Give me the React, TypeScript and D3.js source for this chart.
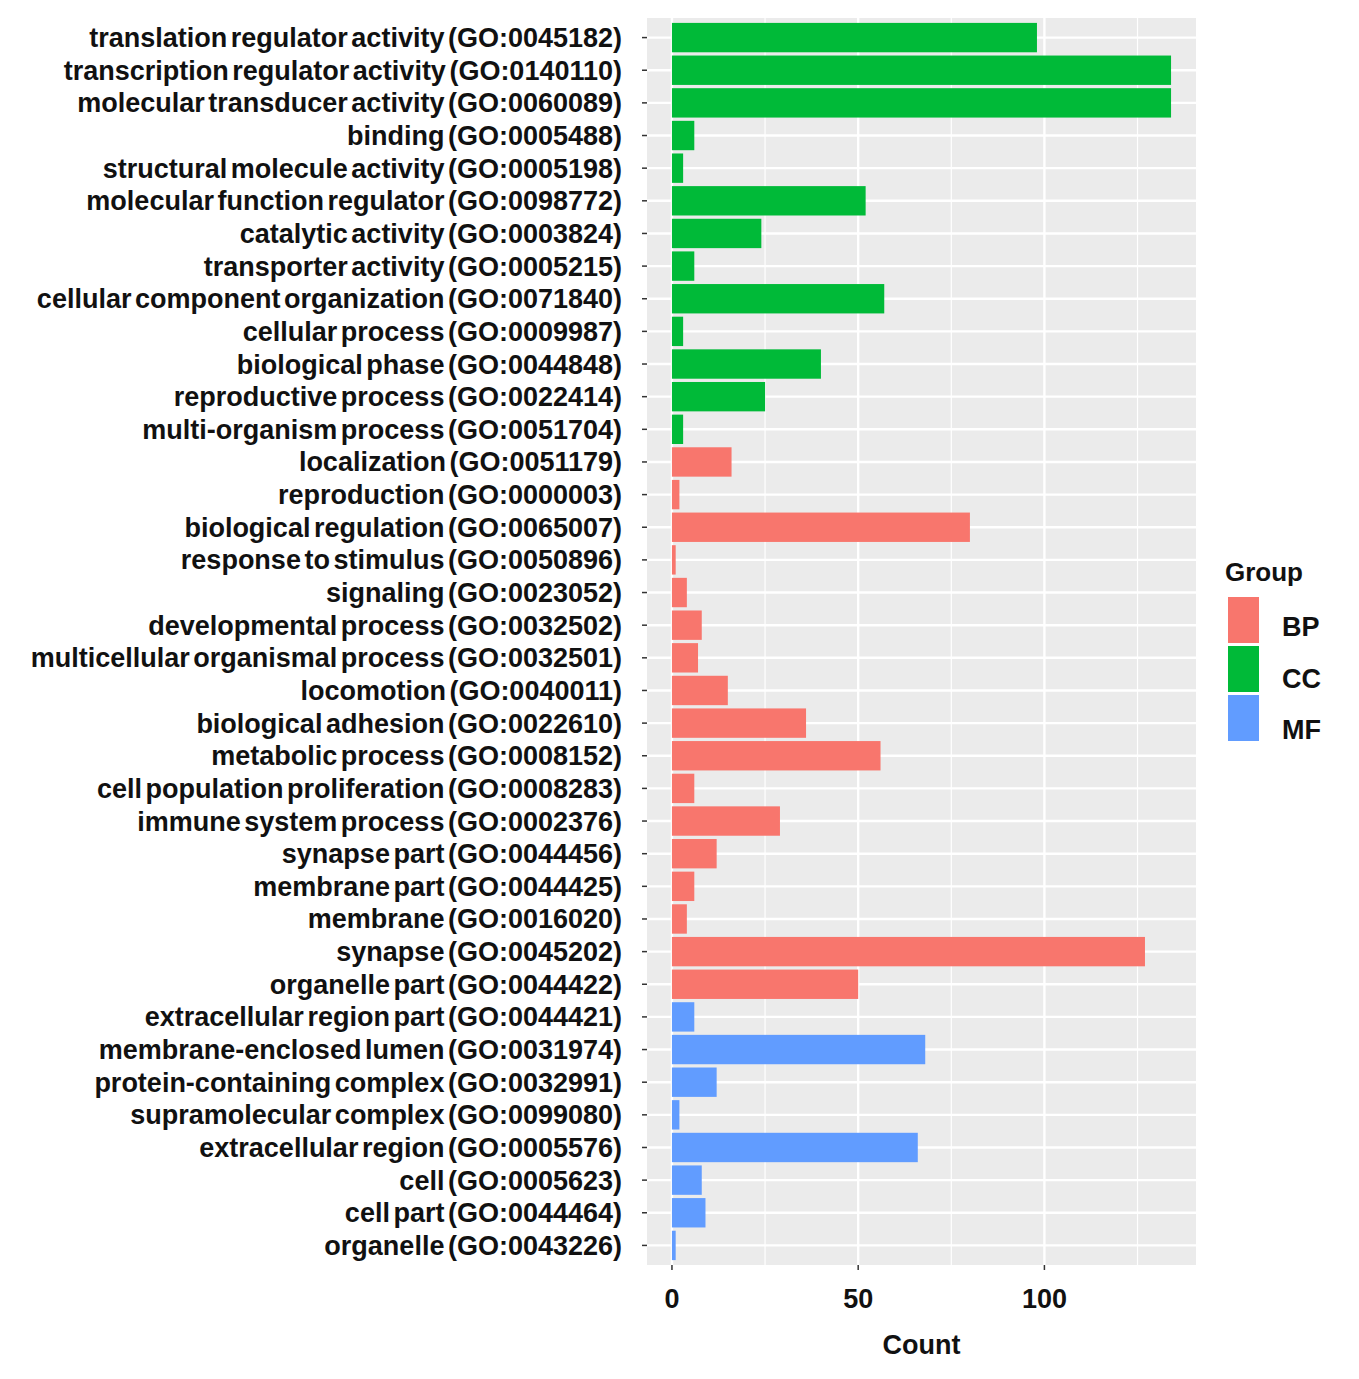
import { scaleLinear, scalePoint, scaleOrdinal } from 'd3';

const terms = [
  'translation regulator activity (GO:0045182)',
  'transcription regulator activity (GO:0140110)',
  'molecular transducer activity (GO:0060089)',
  'binding (GO:0005488)',
  'structural molecule activity (GO:0005198)',
  'molecular function regulator (GO:0098772)',
  'catalytic activity (GO:0003824)',
  'transporter activity (GO:0005215)',
  'cellular component organization (GO:0071840)',
  'cellular process (GO:0009987)',
  'biological phase (GO:0044848)',
  'reproductive process (GO:0022414)',
  'multi-organism process (GO:0051704)',
  'localization (GO:0051179)',
  'reproduction (GO:0000003)',
  'biological regulation (GO:0065007)',
  'response to stimulus (GO:0050896)',
  'signaling (GO:0023052)',
  'developmental process (GO:0032502)',
  'multicellular organismal process (GO:0032501)',
  'locomotion (GO:0040011)',
  'biological adhesion (GO:0022610)',
  'metabolic process (GO:0008152)',
  'cell population proliferation (GO:0008283)',
  'immune system process (GO:0002376)',
  'synapse part (GO:0044456)',
  'membrane part (GO:0044425)',
  'membrane (GO:0016020)',
  'synapse (GO:0045202)',
  'organelle part (GO:0044422)',
  'extracellular region part (GO:0044421)',
  'membrane-enclosed lumen (GO:0031974)',
  'protein-containing complex (GO:0032991)',
  'supramolecular complex (GO:0099080)',
  'extracellular region (GO:0005576)',
  'cell (GO:0005623)',
  'cell part (GO:0044464)',
  'organelle (GO:0043226)',
];

const counts = [
  98, 134, 134, 6, 3, 52, 24, 6, 57, 3, 40, 25, 3,
  16, 2, 80, 1, 4, 8, 7, 15, 36, 56, 6, 29, 12, 6, 4, 127, 50,
  6, 68, 12, 2, 66, 8, 9, 1,
];

const groups = [
  'CC', 'CC', 'CC', 'CC', 'CC', 'CC', 'CC', 'CC', 'CC', 'CC', 'CC', 'CC', 'CC',
  'BP', 'BP', 'BP', 'BP', 'BP', 'BP', 'BP', 'BP', 'BP', 'BP', 'BP', 'BP', 'BP', 'BP', 'BP', 'BP', 'BP',
  'MF', 'MF', 'MF', 'MF', 'MF', 'MF', 'MF', 'MF',
];

const groupNames = ['BP', 'CC', 'MF'];
const groupColors = ['#F8766D', '#00BA38', '#619CFF'];

const majorTicks = [0, 50, 100];
const minorTicks = [25, 75, 125];

const W = 1359;
const H = 1379;
const panel = { left: 647, right: 1196, top: 18, bottom: 1265 };
const FONT = '"Liberation Sans", Arial, sans-serif';

export default function App() {
  const maxCount = Math.max(...counts);
  const pad = maxCount * 0.05;
  const x = scaleLinear().domain([-pad, maxCount + pad]).range([panel.left, panel.right]);
  const y = scalePoint<string>().domain(terms).range([panel.top, panel.bottom]).padding(0.6);
  const color = scaleOrdinal<string, string>().domain(groupNames).range(groupColors);
  const barH = y.step() * 0.9;

  return (
    <svg
      width={W}
      height={H}
      style={{ position: 'absolute', left: 0, top: 0, background: '#fff' }}
      fontFamily={FONT}
    >
      {/* panel background */}
      <rect
        x={panel.left}
        y={panel.top}
        width={panel.right - panel.left}
        height={panel.bottom - panel.top}
        fill="#EBEBEB"
      />
      {/* minor vertical grid */}
      {minorTicks.map((t) => (
        <line key={`mn${t}`} x1={x(t)} x2={x(t)} y1={panel.top} y2={panel.bottom} stroke="#fff" strokeWidth={1.2} />
      ))}
      {/* major vertical grid */}
      {majorTicks.map((t) => (
        <line key={`mj${t}`} x1={x(t)} x2={x(t)} y1={panel.top} y2={panel.bottom} stroke="#fff" strokeWidth={2.4} />
      ))}
      {/* horizontal grid */}
      {terms.map((t) => (
        <line key={`h${t}`} x1={panel.left} x2={panel.right} y1={y(t)} y2={y(t)} stroke="#fff" strokeWidth={2.4} />
      ))}

      {/* Bars */}
      {terms.map((t, i) => (
        <rect
          key={`b${t}`}
          x={x(0)}
          y={(y(t) || 0) - barH / 2}
          width={x(counts[i]) - x(0)}
          height={barH}
          fill={color(groups[i])}
        />
      ))}

      {/* Y axis ticks and labels */}
      {terms.map((t) => {
        const yy = y(t) || 0;
        return (
          <g key={`yl${t}`}>
            <line x1={panel.left - 5} x2={panel.left} y1={yy} y2={yy} stroke="#333" strokeWidth={1.5} />
            <text
              x={622}
              y={yy + 9.5}
              textAnchor="end"
              fontSize={27}
              wordSpacing={-4}
              fontWeight="bold"
              fill="#111"
            >
              {t}
            </text>
          </g>
        );
      })}

      {/* X axis ticks and labels */}
      {majorTicks.map((t) => (
        <g key={`xt${t}`}>
          <line x1={x(t)} x2={x(t)} y1={panel.bottom} y2={panel.bottom + 5} stroke="#333" strokeWidth={1.5} />
          <text x={x(t)} y={1308} textAnchor="middle" fontSize={27} fontWeight="bold" fill="#111">
            {t}
          </text>
        </g>
      ))}
      <text x={(panel.left + panel.right) / 2} y={1354} textAnchor="middle" fontSize={27} fontWeight="bold" fill="#111">
        Count
      </text>

      {/* Legend */}
      <text x={1225} y={581} fontSize={26} fontWeight="bold" fill="#111">
        Group
      </text>
      {groupNames.map((g, i) => (
        <g key={`lg${g}`}>
          <rect x={1228} y={597 + i * 49} width={31} height={46} fill={color(g)} />
          <text x={1282} y={636 + i * 51.5} fontSize={27} fontWeight="bold" fill="#111">
            {g}
          </text>
        </g>
      ))}
    </svg>
  );
}
